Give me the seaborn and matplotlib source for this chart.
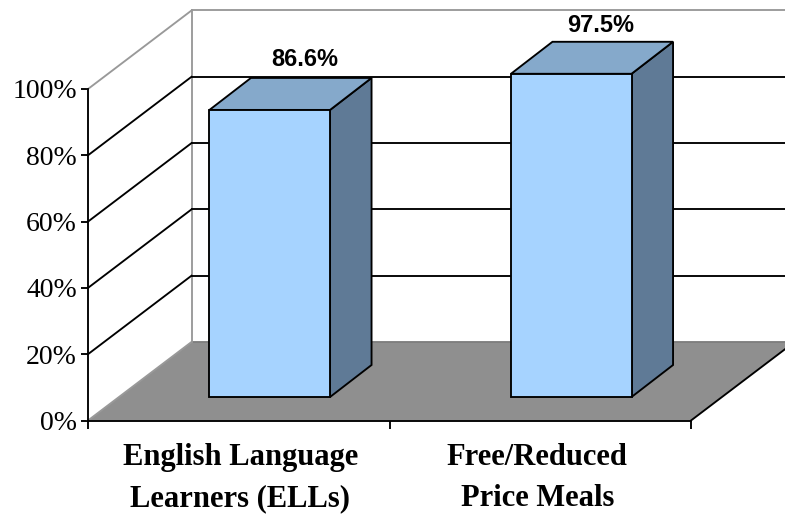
import matplotlib
matplotlib.use("Agg")
import matplotlib.pyplot as plt
from matplotlib.patches import Polygon
from matplotlib.transforms import Affine2D, IdentityTransform
import pandas as pd
import seaborn as sns

categories = ["English Language\nLearners (ELLs)", "Free/Reduced\nPrice Meals"]
values = [86.6, 97.5]
labels = ["86.6%", "97.5%"]
yticks = [0, 20, 40, 60, 80, 100]
yticklabels = ["0%", "20%", "40%", "60%", "80%", "100%"]

W, H = 785, 514
L, R, B, T = 88, 691, 420.5, 89
DEPTH = (103.5, 78.5)
BAR_NEAR = (31, 23.5)
BAR_FAR = (72.5, 55.5)
LABEL_NUDGE = [(-6.5, 18), (-12.5, 16)]
CATEGORY_NUDGE = [1.5, -3]
LW = 1.35
FRONT, TOP, SIDE = "#A6D3FF", "#85A9CB", "#5F7A96"
FLOOR, WALL = "#8F8F8F", "#999999"

sns.set_theme(style="white")
fig = plt.figure(figsize=(W / 100, H / 100), dpi=100, facecolor="white")
ax = fig.add_axes([L / W, (H - B) / H, (R - L) / W, (B - T) / H])
ax.patch.set_visible(False)

df = pd.DataFrame({"category": categories, "value": values})
sns.barplot(data=df, x="category", y="value", width=0.4, color=FRONT, saturation=1,
            edgecolor="black", linewidth=LW, ax=ax, zorder=5)
ax.set_xlim(-0.5, 1.5)
ax.set_ylim(0, 100)
ax.set_xlabel("")
ax.set_ylabel("")
fig.canvas.draw()

px = IdentityTransform()


def pt(x, y, off=(0, 0)):
    a, b = ax.transData.transform((x, y))
    return (a + off[0], b + off[1])


def poly(points, **kw):
    ax.add_patch(Polygon(points, closed=True, transform=px, clip_on=False, **kw))


def line(p, q, color, z=2):
    ax.plot([p[0], q[0]], [p[1], q[1]], color=color, lw=LW, transform=px,
            clip_on=False, zorder=z, solid_capstyle="projecting")


# floor
poly([pt(-0.5, 0), pt(1.5, 0), pt(1.5, 0, DEPTH), pt(-0.5, 0, DEPTH)],
     facecolor=FLOOR, edgecolor="none", zorder=1)
line(pt(-0.5, 0), pt(-0.5, 0, DEPTH), WALL)
line(pt(-0.5, 0, DEPTH), pt(1.5, 0, DEPTH), "#7F7F7F")
line(pt(1.5, 0), pt(1.5, 0, DEPTH), "black")

# walls and gridlines
line(pt(-0.5, 0, DEPTH), pt(-0.5, 100, DEPTH), WALL)
for v in yticks[1:]:
    c = WALL if v == 100 else "black"
    line(pt(-0.5, v), pt(-0.5, v, DEPTH), c)
    line(pt(-0.5, v, DEPTH), pt(1.5, v, DEPTH), c)

# bars: the seaborn bars are the front faces, moved into the depth of the chart
shift = Affine2D().translate(*BAR_NEAR)
for bar, v, txt, nudge in zip(ax.patches[:len(values)], values, labels, LABEL_NUDGE):
    x0, x1 = bar.get_x(), bar.get_x() + bar.get_width()
    bar.set_transform(ax.transData + shift)
    bar.set_clip_on(False)
    poly([pt(x1, 0, BAR_NEAR), pt(x1, v, BAR_NEAR), pt(x1, v, BAR_FAR), pt(x1, 0, BAR_FAR)],
         facecolor=SIDE, edgecolor="black", lw=LW, zorder=4)
    poly([pt(x0, v, BAR_NEAR), pt(x1, v, BAR_NEAR), pt(x1, v, BAR_FAR), pt(x0, v, BAR_FAR)],
         facecolor=TOP, edgecolor="black", lw=LW, zorder=4)
    lx, ly = pt((x0 + x1) / 2, v, BAR_FAR)
    ax.text(lx + nudge[0], ly + nudge[1], txt, transform=px, ha="center", va="center",
            color="black", fontsize=17, fontweight="bold", family="Liberation Sans", zorder=6)

# axes
for s in ("top", "right"):
    ax.spines[s].set_visible(False)
for s in ("left", "bottom"):
    ax.spines[s].set_color("black")
    ax.spines[s].set_linewidth(LW)
    ax.spines[s].set_zorder(3)
ax.set_yticks(yticks, yticklabels, family="Liberation Serif", fontsize=20, color="black")
ax.set_xticks([0, 1], categories, family="Liberation Serif", fontsize=22,
              fontweight="bold", color="black", linespacing=1.55)
ax.set_xticks([-0.5, 0.5, 1.5], minor=True)
ax.tick_params(axis="y", left=True, length=5, width=LW, color="black", pad=3)
ax.tick_params(axis="x", which="major", bottom=False, length=0, pad=16)
ax.tick_params(axis="x", which="minor", bottom=True, length=6, width=LW, color="black")
for lab, dx in zip(ax.get_xticklabels(), CATEGORY_NUDGE):
    lab.set_transform(lab.get_transform() + Affine2D().translate(dx, 0))

fig.savefig("out.png", dpi=100, facecolor="white")
